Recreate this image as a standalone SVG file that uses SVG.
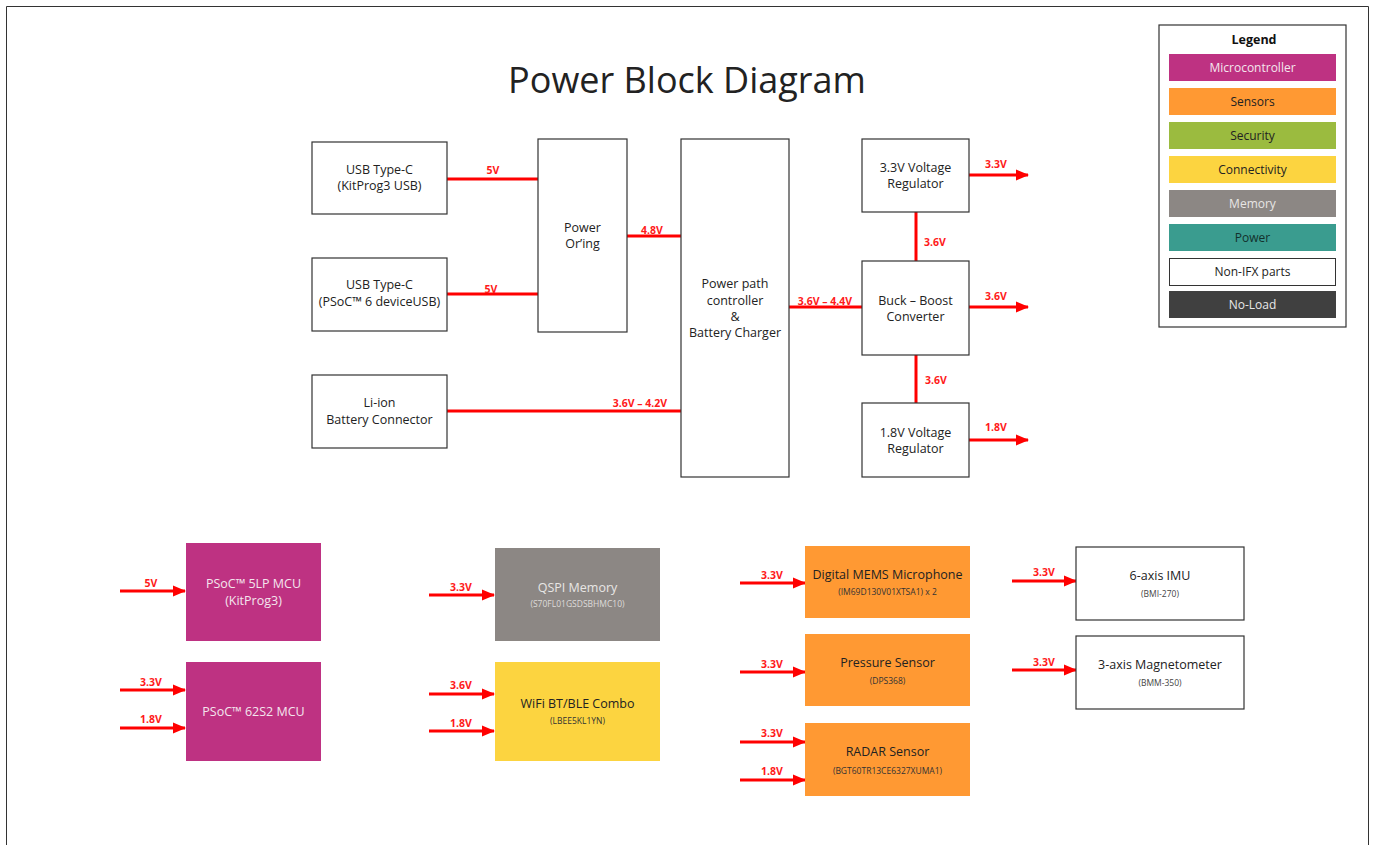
<svg xmlns="http://www.w3.org/2000/svg" width="1375" height="845" viewBox="0 0 1375 845">
<style>
  text { font-family: "Open Sans", "Noto Sans", "Liberation Sans", sans-serif; }
  .box { fill: #ffffff; stroke: #333333; stroke-width: 1.2; }
  .t { font-size: 12.5px; fill: #222222; text-anchor: middle; }
  .tb { font-size: 12.5px; text-anchor: middle; font-weight: 500; }
  .sub { font-size: 8.5px; text-anchor: middle; }
  .lbl { font-size: 10.5px; font-weight: bold; fill: #ff1a1a; text-anchor: middle; }
  .wire { stroke: #ff0000; stroke-width: 3; fill: none; }
  .arr { stroke: #ff0000; stroke-width: 3; fill: none; marker-end: url(#ah); }
  .leg { font-size: 12px; text-anchor: middle; }
</style>
<defs>
  <marker id="ah" markerUnits="userSpaceOnUse" markerWidth="14" markerHeight="12" refX="12" refY="6" orient="auto">
    <path d="M0,0.5 L13,6 L0,11.5 Z" fill="#ff0000"/>
  </marker>
</defs>
<rect x="0" y="0" width="1375" height="845" fill="#ffffff"/>
<path d="M6.5,850 V6.5 H1368.5 V850" fill="none" stroke="#333333" stroke-width="1"/>
<text x="687" y="93" font-size="36" fill="#222222" text-anchor="middle">Power Block Diagram</text>

<g id="connectors">
  <line class="wire" x1="447" y1="179" x2="538" y2="179"/>
  <line class="wire" x1="447" y1="294" x2="538" y2="294"/>
  <line class="wire" x1="627" y1="236" x2="681" y2="236"/>
  <line class="wire" x1="447" y1="411" x2="681" y2="411"/>
  <line class="wire" x1="789" y1="307" x2="862" y2="307"/>
  <line class="wire" x1="916" y1="212" x2="916" y2="261"/>
  <line class="wire" x1="916" y1="355" x2="916" y2="403"/>
  <line class="arr" x1="969" y1="175" x2="1028" y2="175"/>
  <line class="arr" x1="969" y1="307" x2="1028" y2="307"/>
  <line class="arr" x1="969" y1="440" x2="1028" y2="440"/>
  <text class="lbl" x="493" y="174">5V</text>
  <text class="lbl" x="491" y="293">5V</text>
  <text class="lbl" x="652" y="234">4.8V</text>
  <text class="lbl" x="640" y="407">3.6V – 4.2V</text>
  <text class="lbl" x="825" y="305">3.6V – 4.4V</text>
  <text class="lbl" x="935" y="246">3.6V</text>
  <text class="lbl" x="936" y="384">3.6V</text>
  <text class="lbl" x="996" y="168">3.3V</text>
  <text class="lbl" x="996" y="300">3.6V</text>
  <text class="lbl" x="996" y="431">1.8V</text>

  <line class="arr" x1="120" y1="591" x2="185" y2="591"/>
  <line class="arr" x1="120" y1="690" x2="185" y2="690"/>
  <line class="arr" x1="120" y1="728" x2="185" y2="728"/>
  <text class="lbl" x="151" y="587">5V</text>
  <text class="lbl" x="151" y="686">3.3V</text>
  <text class="lbl" x="151" y="723">1.8V</text>

  <line class="arr" x1="429" y1="595" x2="494" y2="595"/>
  <line class="arr" x1="429" y1="694" x2="494" y2="694"/>
  <line class="arr" x1="429" y1="731" x2="494" y2="731"/>
  <text class="lbl" x="461" y="591">3.3V</text>
  <text class="lbl" x="461" y="689">3.6V</text>
  <text class="lbl" x="461" y="727">1.8V</text>

  <line class="arr" x1="740" y1="583" x2="805" y2="583"/>
  <line class="arr" x1="740" y1="672" x2="805" y2="672"/>
  <line class="arr" x1="740" y1="742" x2="805" y2="742"/>
  <line class="arr" x1="740" y1="780" x2="805" y2="780"/>
  <text class="lbl" x="772" y="579">3.3V</text>
  <text class="lbl" x="772" y="668">3.3V</text>
  <text class="lbl" x="772" y="737">3.3V</text>
  <text class="lbl" x="772" y="775">1.8V</text>

  <line class="arr" x1="1012" y1="581" x2="1076" y2="581"/>
  <line class="arr" x1="1012" y1="670" x2="1076" y2="670"/>
  <text class="lbl" x="1044" y="576">3.3V</text>
  <text class="lbl" x="1044" y="666">3.3V</text>
</g>

<g id="usb1">
  <rect class="box" x="312" y="142" width="135" height="72"/>
  <text class="t" x="379.5" y="174">USB Type-C</text>
  <text class="t" x="379.5" y="190">(KitProg3 USB)</text>
</g>
<g id="usb2">
  <rect class="box" x="312" y="258" width="135" height="73"/>
  <text class="t" x="379.5" y="289">USB Type-C</text>
  <text class="t" x="379.5" y="306">(PSoC™ 6 deviceUSB)</text>
</g>
<g id="liion">
  <rect class="box" x="312" y="375" width="135" height="73"/>
  <text class="t" x="379.5" y="407">Li-ion</text>
  <text class="t" x="379.5" y="424">Battery Connector</text>
</g>
<g id="oring">
  <rect class="box" x="538" y="139" width="89" height="193"/>
  <text class="t" x="582.5" y="232">Power</text>
  <text class="t" x="582.5" y="248">Or’ing</text>
</g>
<g id="pathctrl">
  <rect class="box" x="681" y="139" width="108" height="338"/>
  <text class="t" x="735" y="288">Power path</text>
  <text class="t" x="735" y="305">controller</text>
  <text class="t" x="735" y="321">&amp;</text>
  <text class="t" x="735" y="337">Battery Charger</text>
</g>
<g id="reg33">
  <rect class="box" x="862" y="139" width="107" height="73"/>
  <text class="t" x="915.5" y="172">3.3V Voltage</text>
  <text class="t" x="915.5" y="188">Regulator</text>
</g>
<g id="buckboost">
  <rect class="box" x="862" y="261" width="107" height="94"/>
  <text class="t" x="915.5" y="305">Buck – Boost</text>
  <text class="t" x="915.5" y="321">Converter</text>
</g>
<g id="reg18">
  <rect class="box" x="862" y="403" width="107" height="74"/>
  <text class="t" x="915.5" y="437">1.8V Voltage</text>
  <text class="t" x="915.5" y="453">Regulator</text>
</g>

<g id="psoc5lp">
  <rect x="186" y="543" width="135" height="98" fill="#be3282"/>
  <text class="tb" x="253.5" y="588" fill="#f4e6ee">PSoC™ 5LP MCU</text>
  <text class="tb" x="253.5" y="605" fill="#f4e6ee">(KitProg3)</text>
</g>
<g id="psoc62s2">
  <rect x="186" y="662" width="135" height="99" fill="#be3282"/>
  <text class="tb" x="253.5" y="716" fill="#f4e6ee">PSoC™ 62S2 MCU</text>
</g>
<g id="qspi">
  <rect x="495" y="548" width="165" height="93" fill="#8c8784"/>
  <text class="tb" x="577.5" y="592" fill="#e8e6e4">QSPI Memory</text>
  <text class="sub" x="577.5" y="607" fill="#dedbd9">(S70FL01GSDSBHMC10)</text>
</g>
<g id="wifi">
  <rect x="495" y="662" width="165" height="99" fill="#fcd440"/>
  <text class="tb" x="577.5" y="708" fill="#222222">WiFi BT/BLE Combo</text>
  <text class="sub" x="577.5" y="724" fill="#333333">(LBEE5KL1YN)</text>
</g>
<g id="mems">
  <rect x="805" y="546" width="165" height="72" fill="#ff9933"/>
  <text class="tb" x="887.5" y="579" fill="#222222">Digital MEMS Microphone</text>
  <text class="sub" x="887.5" y="595" fill="#333333">(IM69D130V01XTSA1) x 2</text>
</g>
<g id="pressure">
  <rect x="805" y="634" width="165" height="72" fill="#ff9933"/>
  <text class="tb" x="887.5" y="667" fill="#222222">Pressure Sensor</text>
  <text class="sub" x="887.5" y="684" fill="#333333">(DPS368)</text>
</g>
<g id="radar">
  <rect x="805" y="723" width="165" height="73" fill="#ff9933"/>
  <text class="tb" x="887.5" y="756" fill="#222222">RADAR Sensor</text>
  <text class="sub" x="887.5" y="774" fill="#333333">(BGT60TR13CE6327XUMA1)</text>
</g>
<g id="imu">
  <rect class="box" x="1076" y="547" width="168" height="73"/>
  <text class="t" x="1160" y="580">6-axis IMU</text>
  <text class="sub" x="1160" y="597" fill="#444444">(BMI-270)</text>
</g>
<g id="mag">
  <rect class="box" x="1076" y="636" width="168" height="73"/>
  <text class="t" x="1160" y="669">3-axis Magnetometer</text>
  <text class="sub" x="1160" y="686" fill="#444444">(BMM-350)</text>
</g>

<g id="legend">
  <rect x="1159" y="25" width="187" height="302" fill="#ffffff" stroke="#333333" stroke-width="1.2"/>
  <text x="1254" y="44" font-size="12.5" font-weight="bold" fill="#111111" text-anchor="middle">Legend</text>
  <rect x="1169" y="54" width="167" height="27" fill="#be3282"/>
  <text class="leg" x="1252.5" y="72" fill="#f4e6ee">Microcontroller</text>
  <rect x="1169" y="88" width="167" height="27" fill="#ff9933"/>
  <text class="leg" x="1252.5" y="106" fill="#222222">Sensors</text>
  <rect x="1169" y="122" width="167" height="27" fill="#9bbb3f"/>
  <text class="leg" x="1252.5" y="140" fill="#222222">Security</text>
  <rect x="1169" y="156" width="167" height="27" fill="#fcd440"/>
  <text class="leg" x="1252.5" y="174" fill="#222222">Connectivity</text>
  <rect x="1169" y="190" width="167" height="27" fill="#8c8784"/>
  <text class="leg" x="1252.5" y="208" fill="#e8e6e4">Memory</text>
  <rect x="1169" y="224" width="167" height="27" fill="#3a9c8f"/>
  <text class="leg" x="1252.5" y="242" fill="#13302c">Power</text>
  <rect x="1169.5" y="258.5" width="166" height="27" fill="#ffffff" stroke="#333333" stroke-width="1"/>
  <text class="leg" x="1252.5" y="276" fill="#222222">Non-IFX parts</text>
  <rect x="1169" y="291" width="167" height="27" fill="#404040"/>
  <text class="leg" x="1252.5" y="309" fill="#e8e8e8">No-Load</text>
</g>
</svg>
